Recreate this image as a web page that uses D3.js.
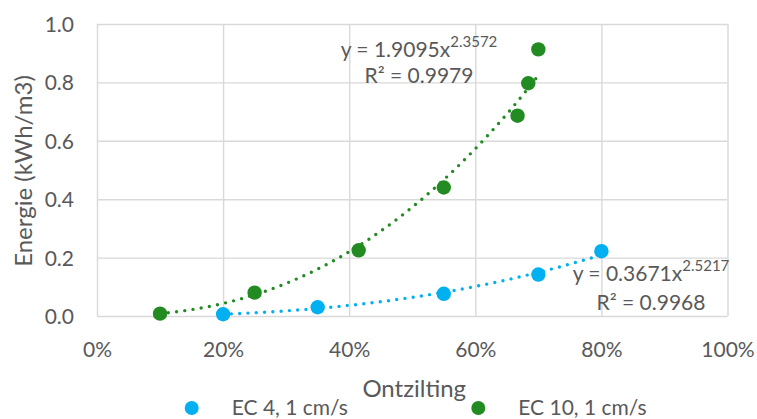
<!DOCTYPE html>
<html>
<head>
<meta charset="utf-8">
<script src="https://cdn.jsdelivr.net/npm/d3@7/dist/d3.min.js"></script>
<style>
  html, body { margin: 0; padding: 0; background: #ffffff; }
  svg { display: block; }
  text { font-family: Lato, "Open Sans", sans-serif; fill: #595959; }
</style>
</head>
<body>
<svg id="chart" width="757" height="419"></svg>
<script>
// Axis ticks
const xTicks = [0, 0.2, 0.4, 0.6, 0.8, 1.0];
const yTicks = [0, 0.2, 0.4, 0.6, 0.8, 1.0];

// Series: desalination fraction vs. energy use
const seriesNames = ["EC 4, 1 cm/s", "EC 10, 1 cm/s"];
const seriesColors = ["#00B0F0", "#228B22"];
const ec4X = [0.20, 0.35, 0.55, 0.70, 0.80];
const ec4Y = [0.006, 0.030, 0.076, 0.142, 0.222];
const ec10X = [0.10, 0.25, 0.415, 0.55, 0.667, 0.684, 0.70];
const ec10Y = [0.008, 0.080, 0.225, 0.440, 0.686, 0.797, 0.913];

// Power-law trendlines y = a * x^b
const fitA = ["0.3671", "1.9095"];
const fitB = ["2.5217", "2.3572"];
const fitR2 = ["0.9968", "0.9979"];

const svg = d3.select("#chart");
const plot = { left: 97, right: 727.5, top: 24, bottom: 316 };
const plotW = plot.right - plot.left;
const plotH = plot.bottom - plot.top;

const x = d3.scaleLinear().domain([0, 1]).range([plot.left, plot.right]);
const y = d3.scaleLinear().domain([0, 1]).range([plot.bottom, plot.top]);

// Gridlines + tick labels
const gx = svg.append("g")
  .attr("transform", `translate(0,${plot.bottom})`)
  .call(d3.axisBottom(x).tickValues(xTicks).tickFormat(d3.format(".0%")).tickSize(-plotH));
const gy = svg.append("g")
  .attr("transform", `translate(${plot.left},0)`)
  .call(d3.axisLeft(y).tickValues(yTicks).tickFormat(d3.format(".1f")).tickSize(-plotW));

[gx, gy].forEach(g => {
  g.select(".domain").remove();
  g.selectAll(".tick line").attr("stroke", "#d9d9d9").attr("stroke-width", 1.4);
  g.selectAll(".tick text")
    .style("font-family", "Lato, 'Open Sans', sans-serif")
    .style("font-size", "21px")
    .attr("fill", "#595959");
});
gx.selectAll(".tick text").attr("y", 40.5).attr("dy", null);
gy.selectAll(".tick text").attr("x", -23).attr("dy", "0.36em");

// Series data as point lists
const series = [
  ec4X.map((v, i) => ({ x: v, y: ec4Y[i] })),
  ec10X.map((v, i) => ({ x: v, y: ec10Y[i] }))
];

// Markers
series.forEach((pts, si) => {
  svg.append("g").selectAll("circle")
    .data(pts)
    .join("circle")
    .attr("cx", d => x(d.x))
    .attr("cy", d => y(d.y))
    .attr("r", 7.2)
    .attr("fill", seriesColors[si]);
});

// Dotted trendlines over the range of each series
const line = d3.line().x(d => x(d[0])).y(d => y(d[1]));
series.forEach((pts, si) => {
  const a = +fitA[si], b = +fitB[si];
  const [x0, x1] = d3.extent(pts, d => d.x);
  const samples = d3.range(0, 101).map(k => {
    const xv = x0 + (x1 - x0) * k / 100;
    return [xv, a * Math.pow(xv, b)];
  });
  svg.append("path")
    .attr("d", line(samples))
    .attr("fill", "none")
    .attr("stroke", seriesColors[si])
    .attr("stroke-width", 3.4)
    .attr("stroke-linecap", "round")
    .attr("stroke-dasharray", "0 8.3");
});

// Trendline equations
const eqPos = [
  { cx: 651, y1: 281, y2: 310 },
  { cx: 419, y1: 56.7, y2: 83 }
];
eqPos.forEach((p, si) => {
  const t1 = svg.append("text")
    .attr("x", p.cx).attr("y", p.y1)
    .attr("text-anchor", "middle")
    .style("font-size", "21px");
  t1.append("tspan").text(`y = ${fitA[si]}x`);
  t1.append("tspan").attr("dy", -10).style("font-size", "15px").text(fitB[si]);
  svg.append("text")
    .attr("x", p.cx).attr("y", p.y2)
    .attr("text-anchor", "middle")
    .style("font-size", "21px")
    .text(`R² = ${fitR2[si]}`);
});

// Axis titles
svg.append("text")
  .attr("x", (plot.left + plot.right) / 2 + 2)
  .attr("y", 396.5)
  .attr("text-anchor", "middle")
  .style("font-size", "24px")
  .text("Ontzilting");
svg.append("text")
  .attr("transform", `translate(31.5,${(plot.top + plot.bottom) / 2 + 1}) rotate(-90)`)
  .attr("text-anchor", "middle")
  .style("font-size", "24px")
  .text("Energie (kWh/m3)");

// Legend
const legendX = [191.7, 478.3];
seriesNames.forEach((name, i) => {
  svg.append("circle")
    .attr("cx", legendX[i]).attr("cy", 408)
    .attr("r", 7)
    .attr("fill", seriesColors[i]);
  svg.append("text")
    .attr("x", legendX[i] + 40).attr("y", 415)
    .style("font-size", "21px")
    .text(name);
});
</script>
</body>
</html>
